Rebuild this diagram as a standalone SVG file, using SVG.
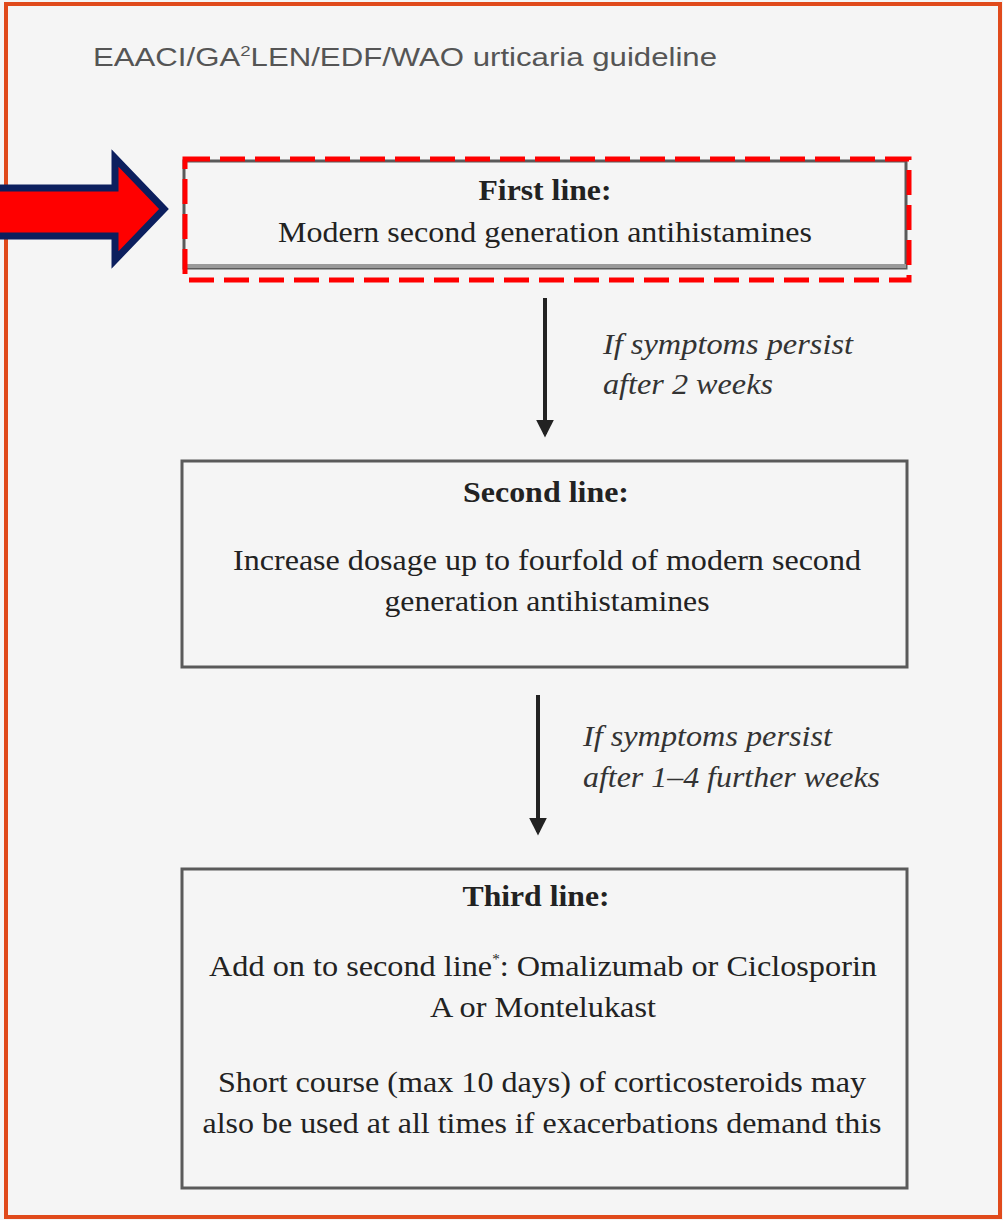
<svg xmlns="http://www.w3.org/2000/svg" width="1003" height="1220" viewBox="0 0 1003 1220">
<style>
.box{fill:none;stroke:#5a5a5a;stroke-width:3}
.hd{font-family:"Liberation Serif",serif;font-weight:bold;font-size:29px;fill:#222;text-anchor:middle}
.tx{font-family:"Liberation Serif",serif;font-size:30px;fill:#222;text-anchor:middle}
.lb{font-family:"Liberation Serif",serif;font-style:italic;font-size:30px;fill:#333}
.conn{stroke:#222;stroke-width:4;fill:none}
</style>
<defs>
<marker id="ah" viewBox="0 0 10 10" refX="8" refY="5" markerWidth="4.5" markerHeight="4.5" orient="auto" markerUnits="strokeWidth">
<path d="M0,0 L10,5 L0,10 z" fill="#222"/>
</marker>
</defs>
<rect x="0" y="0" width="1003" height="1220" fill="#f5f5f5"/>
<rect x="6" y="4" width="994" height="1213" fill="none" stroke="#e04a1c" stroke-width="4"/>
<text x="93" y="66" font-family="Liberation Sans, Arial, sans-serif" font-size="25" fill="#555" textLength="624" lengthAdjust="spacingAndGlyphs">EAACI/GA<tspan dy="-10" font-size="15">2</tspan><tspan dy="10">LEN/EDF/WAO urticaria guideline</tspan></text>
<g id="first-line">
<rect class="box" x="184" y="161" width="722" height="107"/>
<line x1="186" y1="266" x2="906" y2="266" stroke="#9a9a9a" stroke-width="4"/>
<rect x="185" y="159" width="724" height="121" fill="none" stroke="#ff0000" stroke-width="5" stroke-dasharray="25,10"/>
<text class="hd" x="545" y="200" textLength="133" lengthAdjust="spacingAndGlyphs">First line:</text>
<text class="tx" x="545" y="242" textLength="534" lengthAdjust="spacingAndGlyphs">Modern second generation antihistamines</text>
</g>
<g id="pointer-arrow">
<path d="M-5,188 L115,188 L115,158 L164,209 L115,260 L115,236 L-5,236 Z" fill="#ff0000" stroke="#0c1f5e" stroke-width="7" stroke-linejoin="miter"/>
</g>
<g id="second-line">
<rect class="box" x="182" y="461" width="725" height="206"/>
<text class="hd" x="546" y="502" textLength="166" lengthAdjust="spacingAndGlyphs">Second line:</text>
<text class="tx" x="547" y="570" textLength="628" lengthAdjust="spacingAndGlyphs">Increase dosage up to fourfold of modern second</text>
<text class="tx" x="547" y="611" textLength="325" lengthAdjust="spacingAndGlyphs">generation antihistamines</text>
</g>
<g id="third-line">
<rect class="box" x="182" y="869" width="725" height="319"/>
<text class="hd" x="536" y="906" textLength="147" lengthAdjust="spacingAndGlyphs">Third line:</text>
<text class="tx" x="543" y="976" textLength="668" lengthAdjust="spacingAndGlyphs">Add on to second line<tspan dy="-12" font-size="14">*</tspan><tspan dy="12">: Omalizumab or Ciclosporin</tspan></text>
<text class="tx" x="543" y="1017" textLength="226" lengthAdjust="spacingAndGlyphs">A or Montelukast</text>
<text class="tx" x="542" y="1092" textLength="648" lengthAdjust="spacingAndGlyphs">Short course (max 10 days) of corticosteroids may</text>
<text class="tx" x="542" y="1133" textLength="679" lengthAdjust="spacingAndGlyphs">also be used at all times if exacerbations demand this</text>
</g>
<g id="connectors">
<line class="conn" x1="545" y1="298" x2="545" y2="434" marker-end="url(#ah)"/>
<text class="lb" x="603" y="354" textLength="250" lengthAdjust="spacingAndGlyphs">If symptoms persist</text>
<text class="lb" x="603" y="394" textLength="170" lengthAdjust="spacingAndGlyphs">after 2 weeks</text>
<line class="conn" x1="538" y1="695" x2="538" y2="832" marker-end="url(#ah)"/>
<text class="lb" x="583" y="746" textLength="249" lengthAdjust="spacingAndGlyphs">If symptoms persist</text>
<text class="lb" x="583" y="787" textLength="297" lengthAdjust="spacingAndGlyphs">after 1–4 further weeks</text>
</g>
</svg>
